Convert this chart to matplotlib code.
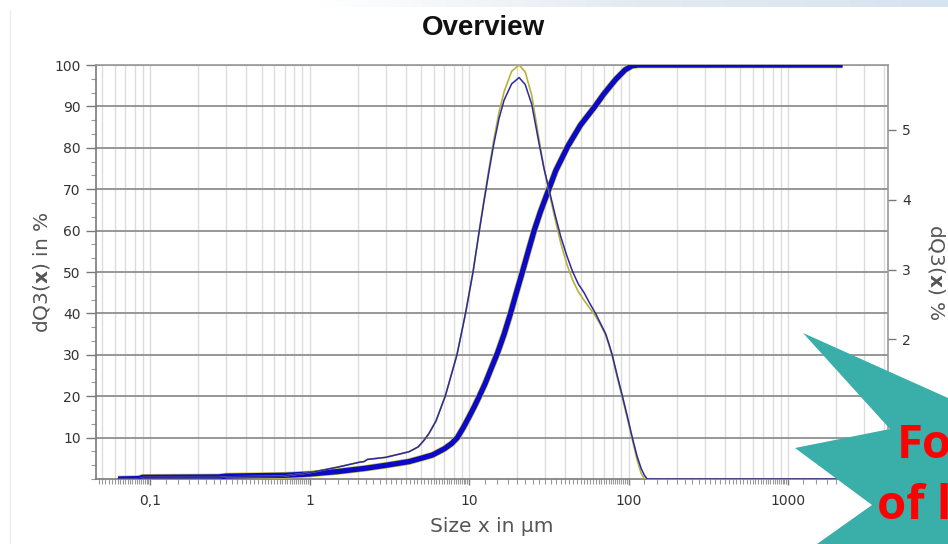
import numpy as np
import matplotlib
matplotlib.use("Agg")
import matplotlib.pyplot as plt
from matplotlib.ticker import FixedLocator, LogLocator, NullFormatter, MultipleLocator
from matplotlib.patches import Polygon
from matplotlib.lines import Line2D

# ---- data -------------------------------------------------------------
# cumulative distribution Q3 (%, left axis)
cum_size = [0.063, 0.085, 0.09, 0.27, 0.3, 0.7, 1.0, 1.5, 2.25, 3.0, 4.2, 5.0, 5.9,
            7.0, 7.8, 8.45, 9.2, 10.0, 10.8, 11.6, 12.6, 13.8, 15.1, 16.6, 18.2,
            19.8, 21.6, 23.5, 25.6, 28.0, 30.6, 35.0, 41.8, 50.0, 61.6, 70.0,
            83.0, 95.0, 105.0, 115.0, 2200.0]
cum_q3 = [0, 0.1, 0.4, 0.5, 0.7, 0.9, 1.2, 1.8, 2.6, 3.3, 4.2, 5.0, 5.8,
          7.3, 8.6, 10.0, 12.4, 15.0, 17.5, 20.0, 23.0, 26.8, 30.5, 35.0, 40.0,
          45.0, 50.0, 55.0, 60.0, 64.5, 68.5, 74.5, 80.5, 85.5, 90.0, 93.0,
          96.5, 98.8, 99.8, 100.0, 100.0]

# density distribution dQ3 (%, right axis), two measurements
dens_size = [0.063, 0.085, 0.09, 0.27, 0.3, 0.68, 1.0, 1.5, 2.05, 2.2, 2.3, 3.0,
             4.2, 4.8, 5.2, 5.6, 6.2, 7.1, 8.4, 9.5, 10.6, 11.6,
             12.4, 13.3, 14.3, 15.4, 16.6, 18.5, 20.6,
             22.5, 24.7, 27.5, 29.5, 31.7, 34.5, 37.6, 41.0, 44.6, 48.5, 52.6,
             57.0, 62.2, 67.0, 71.9, 75.5, 79.0, 85.0, 91.5, 98.5, 105.7, 113.0,
             120.0, 126.0, 131.0, 2040.0]
dens_run1 = [0, 0, 0.02, 0.02, 0.03, 0.04, 0.09, 0.17, 0.24, 0.25, 0.28, 0.31,
             0.39, 0.46, 0.55, 0.65, 0.83, 1.19, 1.78, 2.37, 2.97, 3.56,
             3.97, 4.39, 4.80, 5.16, 5.43, 5.66, 5.75,
             5.65, 5.37, 4.80, 4.45, 4.15, 3.80, 3.47, 3.20, 2.97, 2.79, 2.67,
             2.52, 2.37, 2.22, 2.08, 1.93, 1.78, 1.48, 1.19, 0.89, 0.59, 0.33,
             0.15, 0.05, 0.0, 0.0]
dens_run2 = [0, 0, 0.02, 0.02, 0.03, 0.04, 0.09, 0.17, 0.24, 0.25, 0.28, 0.31,
             0.39, 0.46, 0.55, 0.65, 0.83, 1.19, 1.78, 2.37, 2.97, 3.56,
             4.00, 4.43, 4.86, 5.25, 5.55, 5.84, 5.93,
             5.83, 5.50, 4.86, 4.45, 4.12, 3.74, 3.38, 3.08, 2.85, 2.68, 2.56,
             2.45, 2.33, 2.20, 2.06, 1.91, 1.76, 1.45, 1.16, 0.86, 0.56, 0.28,
             0.08, 0.0, 0.0, 0.0]

x_ticks = [0.1, 1, 10, 100, 1000]
x_tick_labels = ["0,1", "1", "10", "100", "1000"]
left_ticks = [10, 20, 30, 40, 50, 60, 70, 80, 90, 100]
right_ticks = [1, 2, 3, 4, 5]

# ---- figure -----------------------------------------------------------
W, H = 948, 544
fig = plt.figure(figsize=(W / 100, H / 100), dpi=100)
fig.patch.set_facecolor("white")

def fx(px):
    return px / W

def fy(py):
    return 1 - py / H

# faint slide band along the top edge
band = fig.add_axes([fx(320), fy(7), fx(628), 7 / H])
grad = np.linspace(0, 1, 256)[None, :]
band.imshow(grad, aspect="auto", cmap=matplotlib.colors.LinearSegmentedColormap.from_list(
    "band", ["#ffffff", "#e3ebf2", "#d6e4f0"]))
band.axis("off")

# faint panel edge on the left
fig.lines.append(Line2D([fx(10), fx(10)], [fy(10), fy(544)], transform=fig.transFigure,
                        color="#efefef", lw=1.0))

ax = fig.add_axes([fx(96), fy(479), fx(888 - 96), (479 - 65) / H])
ax.set_xscale("log")
ax.set_xlim(0.0458, 4236)
ax.set_ylim(0, 100)

# grid
for v in left_ticks:
    ax.axhline(v, color="#8f8f8f", lw=1.3, zorder=1)
grid_x = [m * 10.0 ** e for e in range(-2, 4) for m in range(1, 10)]
for v in grid_x:
    if 0.0458 < v < 4236:
        ax.axvline(v, color="#dcdcdc", lw=1.0, zorder=0.5)

ax.plot(cum_size, cum_q3, color="#c9c23e", lw=4.8, zorder=3,
        solid_joinstyle="round", solid_capstyle="butt")
ax.plot(cum_size, cum_q3, color="#0a0ac8", lw=3.8, zorder=4,
        solid_joinstyle="round", solid_capstyle="butt")

ax.set_xticks(x_ticks)
ax.set_xticklabels(x_tick_labels)
ax.xaxis.set_minor_locator(LogLocator(base=10, subs=np.arange(1.25, 10, 0.25), numticks=100))
ax.xaxis.set_minor_formatter(NullFormatter())
ax.yaxis.set_major_locator(FixedLocator(left_ticks))
ax.yaxis.set_minor_locator(MultipleLocator(10 / 3))

ax.tick_params(axis="both", which="major", direction="out", length=7, width=1,
               color="#7a7a7a", labelcolor="#333333", labelsize=10, pad=4)
ax.tick_params(axis="both", which="minor", direction="out", length=3.5, width=0.8,
               color="#9a9a9a")
ax.tick_params(axis="x", which="major", length=4, pad=7)
for side in ["left", "bottom"]:
    ax.spines[side].set_color("#7a7a7a")
    ax.spines[side].set_linewidth(1.2)
for side in ["top", "right"]:
    ax.spines[side].set_color("#9a9a9a")
    ax.spines[side].set_linewidth(1.2)

ax.set_xlabel("Size x in μm", fontsize=14.5, color="#555555", labelpad=6)
ax.set_ylabel(r"dQ3($\mathbf{x}$) in %", fontsize=14.5, color="#555555", labelpad=2)

# density on the right axis
ax2 = ax.twinx()
ax2.set_ylim(0, 5.93)
ax2.plot(dens_size, dens_run2, color="#b9b23a", lw=1.2, zorder=2)
ax2.plot(dens_size, dens_run1, color="#2a2aa0", lw=1.1, zorder=3)
ax2.yaxis.set_major_locator(FixedLocator(right_ticks))
ax2.tick_params(axis="y", which="major", direction="out", length=6, width=1,
                color="#7a7a7a", labelcolor="#333333", labelsize=10, pad=4)
for side in ["top", "right", "left", "bottom"]:
    ax2.spines[side].set_visible(False)
ax2.set_ylabel(r"dQ3($\mathbf{x}$) %", fontsize=14.5, color="#555555",
               rotation=270, labelpad=26)

fig.text(fx(483), fy(28), "Overview", ha="center", va="center",
         fontsize=20, fontweight="bold", family="Liberation Sans", color="#111111")

# callout shape in the corner
callout = [(803, 333), (948, 398), (948, 544), (817, 544), (872, 505),
           (795, 448), (890, 429)]
fig.patches.append(Polygon([(fx(x), fy(y)) for x, y in callout], closed=True,
                           transform=fig.transFigure, facecolor="#3aaea9",
                           edgecolor="none", zorder=5))
fig.text(fx(897), fy(458), "Fo", color="#ff0000", fontsize=34, fontweight="bold",
         family="Open Sans", ha="left", va="baseline", zorder=6)
fig.text(fx(877), fy(519), "of l", color="#ff0000", fontsize=34, fontweight="bold",
         family="Open Sans", ha="left", va="baseline", zorder=6)

fig.savefig("out.png", dpi=100)
